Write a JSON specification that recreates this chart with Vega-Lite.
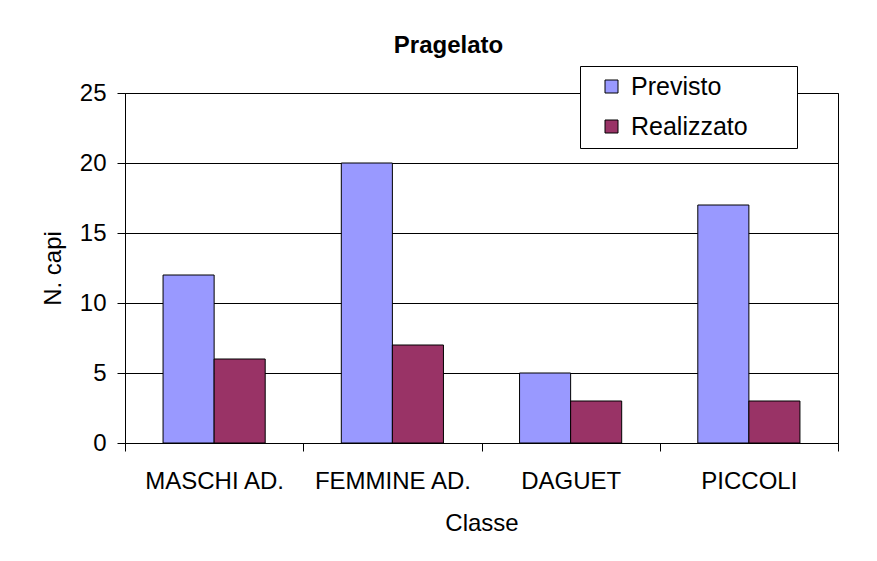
{
  "$schema": "https://vega.github.io/schema/vega-lite/v6.json",
  "width": 713,
  "height": 350,
  "autosize": {"type": "none"},
  "padding": {"left": 125, "top": 93, "right": 39, "bottom": 118},
  "background": "white",
  "title": {"text": "Pragelato", "fontSize": 24, "fontWeight": "bold", "font": "Liberation Sans", "color": "black", "offset": 8, "dx": -33},
  "data": {
    "values": [
      {"classe": "MASCHI AD.", "serie": "Previsto", "n": 12},
      {"classe": "MASCHI AD.", "serie": "Realizzato", "n": 6},
      {"classe": "FEMMINE AD.", "serie": "Previsto", "n": 20},
      {"classe": "FEMMINE AD.", "serie": "Realizzato", "n": 7},
      {"classe": "DAGUET", "serie": "Previsto", "n": 5},
      {"classe": "DAGUET", "serie": "Realizzato", "n": 3},
      {"classe": "PICCOLI", "serie": "Previsto", "n": 17},
      {"classe": "PICCOLI", "serie": "Realizzato", "n": 3}
    ]
  },
  "mark": {"type": "bar", "stroke": "black", "strokeWidth": 1},
  "encoding": {
    "x": {
      "field": "classe", "type": "nominal",
      "sort": ["MASCHI AD.", "FEMMINE AD.", "DAGUET", "PICCOLI"],
      "scale": {"paddingInner": 0, "paddingOuter": 0},
      "title": "Classe",
      "axis": {
        "labelAngle": 0, "tickBand": "extent", "tickSize": 8, "tickColor": "black",
        "domainColor": "black", "labelFontSize": 24, "labelColor": "black", "labelPadding": 18,
        "titleFontSize": 24, "titleFontWeight": "normal", "titleColor": "black", "titlePadding": 18
      }
    },
    "xOffset": {
      "field": "serie", "sort": ["Previsto", "Realizzato"],
      "scale": {"paddingInner": 0, "paddingOuter": 0.745}
    },
    "y": {
      "field": "n", "type": "quantitative",
      "scale": {"domain": [0, 25], "nice": false},
      "title": "N. capi",
      "axis": {
        "values": [0, 5, 10, 15, 20, 25], "grid": true, "gridColor": "black", "gridOpacity": 1,
        "domainColor": "black", "tickColor": "black", "tickSize": 8,
        "labelFontSize": 24, "labelColor": "black", "labelPadding": 11,
        "titleFontSize": 24, "titleFontWeight": "normal", "titleColor": "black", "titlePadding": 14
      }
    },
    "color": {
      "field": "serie", "type": "nominal",
      "scale": {"domain": ["Previsto", "Realizzato"], "range": ["#9999FF", "#993366"]},
      "legend": {
        "orient": "none", "legendX": 455, "legendY": -27,
        "title": "\u00a0", "titleOrient": "right", "titlePadding": 41, "titleFontSize": 25,
        "strokeColor": "black", "fillColor": "white", "padding": 8,
        "symbolType": "square", "symbolSize": 169, "symbolStrokeColor": "black", "symbolStrokeWidth": 1,
        "symbolOpacity": 1, "symbolOffset": 11,
        "labelFontSize": 25, "labelColor": "black", "labelOffset": 7, "rowPadding": 14
      }
    }
  },
  "config": {
    "font": "Liberation Sans",
    "view": {"stroke": "black", "strokeWidth": 1}
  }
}
